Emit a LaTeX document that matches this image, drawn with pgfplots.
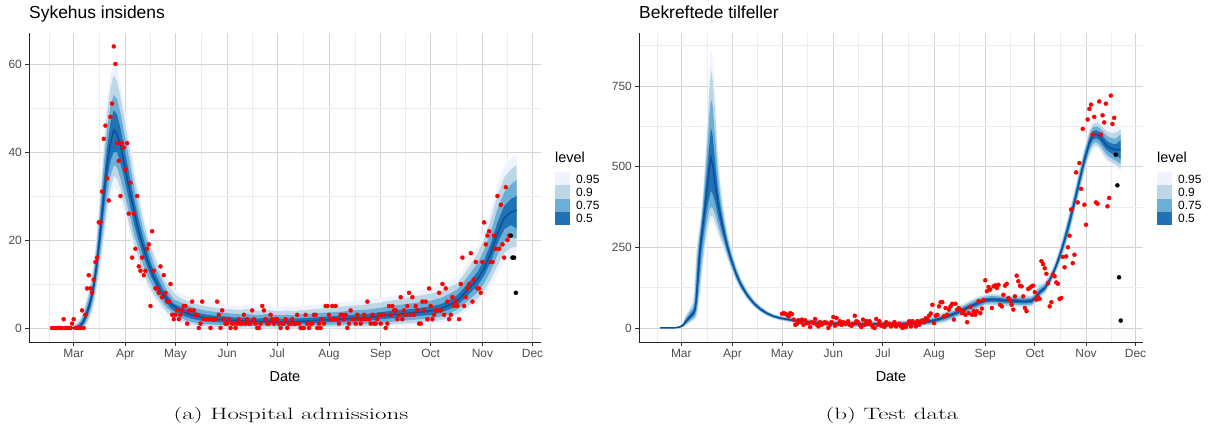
\documentclass[border=0pt]{standalone}
\usepackage{fontspec}
\usepackage{graphicx}
\usepackage{pgfplots}
\usepackage{pgfplotstable}
\pgfplotsset{compat=1.18}
\usepgfplotslibrary{fillbetween}
\newfontfamily\arial{Liberation Sans}

\definecolor{q95}{HTML}{EFF3FF}
\definecolor{q90}{HTML}{BDD7E7}
\definecolor{q75}{HTML}{6BAED6}
\definecolor{q50}{HTML}{2171B5}
\definecolor{medline}{HTML}{08519C}
\definecolor{gmajor}{HTML}{D4D4D4}
\definecolor{gminor}{HTML}{EDEDED}
\definecolor{txtgrey}{HTML}{4D4D4D}

\newcommand\fs[1]{\fontsize{#1}{#1}\selectfont}

% quantile bands of the hospital admissions forecast (day of year 2020)
\pgfplotstableread{
d l95 l90 l75 l50 med u50 u75 u90 u95
47 0 0 0 0 0 0 0 0 0.3
55 0 0 0 0 0 0 0.1 0.2 0.4
60 0 0 0 0 0 0.1 0.3 0.5 0.8
62 0 0 0 0 0.2 0.4 0.8 1.1 1.5
64 0 0 0 0.2 0.5 1 1.5 2 2.6
66 0 0.2 0.5 1 1.5 2.3 3 3.8 4.5
68 0.8 1.2 1.8 2.6 3.5 4.5 5.5 6.5 7.5
70 2.2 2.9 3.8 4.8 5.9 7 8.3 9.6 10.8
72 4.5 5.5 6.8 8.2 9.5 11 12.5 14 15.5
74 8.5 10 11.5 13.2 15 17 19 21 23
76 13.5 15 17 19.5 22 25 28 30 32
78 19 21 23.5 26.5 30 33.5 37 40 43
80 25 27 30 33.5 37 41 45 49 52
82 29.5 31.5 34.5 38 42 46.5 50.5 54.5 57.5
84 32 34.5 37 40 45 49.5 53 57.5 60
86 31.5 34 36.5 40 44 48.5 52 56 59
88 29.5 31.5 34 37.5 41.5 45.5 49 52.5 55.5
90 26.5 28.5 31 34.5 38 41.5 45 48.5 51
92 23.5 25.5 28 31 34 37.5 41 44 46.5
94 20.5 22.5 25 27.5 30.5 33.5 36.5 39.5 42
96 18 19.5 21.5 24 27 29.5 32.5 35 37.5
98 15.5 17 19 21 23.5 26 28.5 31 33
100 13.5 14.5 16.5 18.5 20.5 23 25 27.5 29
102 11.5 12.5 14 16 18 20 22 24 25.5
104 9.5 10.5 12 14 15.5 17.5 19.5 21 22.5
106 8 9 10.5 12 13.5 15 17 18.5 20
108 7 7.5 9 10.5 11.5 13 14.5 16.5 17.5
110 5.5 6.5 7.5 9 10 11.5 13 14.5 15.5
112 4.5 5.5 6.5 7.5 8.5 10 11.5 12.5 14
114 4 4.5 5.5 6.5 7.5 8.5 10 11 12.5
116 3 3.5 4.5 5.5 6.5 7.5 8.5 10 11
118 2.5 3 4 4.5 5.5 6.5 7.5 9 10
120 2 2.5 3 4 5 5.5 6.5 8 9
123 1.5 2 2.5 3.3 4.2 5 6 7 8
126 1 1.5 2 2.8 3.6 4.5 5.5 6.5 7.5
129 0.5 1 1.5 2.3 3.2 4 5 6 7
132 0.3 0.8 1.3 2 2.8 3.6 4.6 5.6 6.6
136 0 0.5 1 1.7 2.5 3.3 4.2 5.2 6.2
140 0 0.4 0.9 1.5 2.2 3 3.9 4.9 5.9
144 0 0.3 0.8 1.4 2 2.8 3.7 4.7 5.6
148 0 0.2 0.7 1.3 1.9 2.7 3.5 4.5 5.5
152 0 0.2 0.6 1.2 1.8 2.6 3.4 4.3 5.3
156 0 0.1 0.6 1.1 1.7 2.4 3.2 4.2 5.1
160 0 0.1 0.5 1 1.6 2.3 3.1 4.1 5
164 0 0.2 0.6 1.1 1.6 2.4 3.2 4.3 5.3
168 0 0.1 0.5 1 1.5 2.2 3 4 4.9
172 0 0.1 0.5 1 1.5 2.2 3 3.9 4.8
176 0 0.2 0.6 1.1 1.6 2.3 3.2 4.1 5.1
180 0 0.1 0.5 1 1.5 2.2 3 3.9 4.8
184 0 0.1 0.4 0.9 1.4 2.1 2.9 3.8 4.7
188 0 0.1 0.5 1 1.5 2.2 3 4 5
192 0 0.1 0.4 0.9 1.4 2.1 2.9 3.8 4.8
196 0 0.2 0.5 1 1.5 2.2 3.1 4 5
200 0 0.2 0.5 1 1.6 2.3 3.1 4.1 5.1
204 0 0.2 0.6 1.1 1.7 2.4 3.3 4.3 5.3
208 0 0.2 0.6 1.2 1.8 2.5 3.4 4.4 5.4
212 0 0.3 0.7 1.3 1.9 2.6 3.5 4.6 5.6
216 0 0.3 0.8 1.4 2 2.7 3.6 4.7 5.7
220 0 0.3 0.8 1.4 2 2.8 3.7 4.8 5.9
224 0.1 0.4 0.9 1.5 2.1 2.9 3.9 5 6
228 0.1 0.4 0.9 1.5 2.2 3 4 5.1 6.2
232 0.1 0.4 0.9 1.6 2.3 3.1 4.1 5.2 6.3
236 0.2 0.5 1 1.7 2.4 3.2 4.2 5.4 6.5
240 0.2 0.5 1.1 1.8 2.5 3.4 4.4 5.6 6.7
244 0.3 0.7 1.2 2 2.8 3.6 4.6 5.8 6.8
250 0.4 0.8 1.4 2.2 3 3.9 5 6.2 7.2
256 0.5 1 1.6 2.4 3.2 4.1 5.3 6.6 7.6
262 0.6 1.1 1.8 2.6 3.4 4.3 5.6 7 8.1
268 0.8 1.3 2 2.8 3.6 4.6 5.9 7.4 8.6
274 0.9 1.4 2.2 3 3.9 4.9 6.2 7.8 9
280 1.2 1.8 2.6 3.5 4.4 5.4 6.8 8.4 9.7
285 1.6 2.3 3.2 4.2 5.2 6.3 7.7 9.3 10.6
290 2.5 3.2 4.2 5.2 6.3 7.5 8.8 10.2 11.5
294 3.5 4.3 5.4 6.6 7.8 9.1 10.6 12.2 13.6
298 4.5 5.4 6.7 8.1 9.4 10.9 12.6 14.5 16
302 5.6 6.6 8.1 9.6 11 12.7 14.7 16.9 18.6
306 7.2 8.4 10.1 11.9 13.5 15.4 17.7 20.2 22.2
310 9.6 11 13 15.1 17 19.2 21.8 24.6 26.8
314 12.5 14.2 16.6 19.2 21.5 24 27 30.2 32.6
318 15 17 19.6 22.4 25 27.7 30.8 34.2 36.8
322 16.3 18.2 20.5 23.4 26.3 29.3 32.6 36 38.5
325.5 17 18.5 20.4 22.6 26.8 30 33.7 37 39.4
}\bandL

% quantile bands of the confirmed cases forecast
\pgfplotstableread{
d l95 l90 l75 l50 med u50 u75 u90 u95
47 0 0 0 0 0 0 0 0 0
56 0 0 0 0 0.5 1 1.5 2 2.5
59 0 0.5 1 2 3 4 5 6 8
61 2 3 4 6 8 10 13 16 20
63 8 10 13 17 22 27 33 39 45
65 14 17 21 27 33 40 48 56 64
67 20 24 29 36 44 53 64 76 90
68 24 28 34 42 52 64 82 110 150
69 30 36 46 60 80 120 170 215 250
70 45 58 80 110 150 200 245 270 290
71 80 100 130 175 225 258 285 302 318
72 130 152 185 230 275 302 328 345 362
73 180 200 232 272 318 348 378 400 418
74 222 242 272 310 360 400 440 472 495
75 262 282 312 350 405 455 505 548 580
76 292 312 342 380 450 510 575 635 680
77 318 338 368 405 495 570 655 740 800
78 330 348 375 425 527 620 710 800 865
79 328 346 372 415 505 595 685 770 835
80 318 335 360 398 468 540 620 700 770
81 305 320 345 378 428 488 558 628 688
82 290 304 325 352 392 435 480 530 570
84 265 275 290 312 340 365 390 420 445
86 240 248 260 275 292 310 328 346 362
88 210 217 227 238 250 263 276 289 300
90 182 188 196 205 215 225 235 245 254
93 145 150 156 163 170 178 186 194 201
96 115 119 124 129 135 141 147 153 158
100 86 89 93 97 101 106 110 115 119
104 64 66 69 72 76 79 83 86 89
108 48 50 52 55 58 61 64 67 69
112 36 38 40 42.5 45 47.5 50 52 54
116 28 30 32 34 36 38 40 42 44
120 22 24 26 28 30.5 33 35 37 39
125 17 19 21.5 23.5 26 28.5 31 33 35
130 13 15 17.5 20 22.5 25 27.5 30 32
140 7 9 12 14.5 17.5 20.5 23 26 28
150 3 5 8 10.5 14.5 18 21 24 26.5
160 1 3 6 9 12.5 16 19 22 24.5
170 0.5 2.5 5.5 8.5 12 15.5 18.5 21.5 24
180 0.5 2.5 5.5 8.5 12 15.5 18.5 21.5 24
190 1 3 6 9 12.5 16 19 22 24.5
200 2 4 7 10.5 14 17.5 21 24 26.5
205 4 6 9 12.5 16 19.5 23 26 29
210 7 9.5 12.5 16 20 24 27.5 31 34
215 11 14 17.5 21.5 26 30.5 34.5 38.5 42
220 16 19.5 23.5 28.5 34 39.5 44.5 49 53
225 27 30 34 38.5 43.5 48.5 53 57 60
230 36 39.5 44 49.5 55 60.5 66 70.5 74
235 46 50 55 61 67 73 79 84 88
240 56 60 65 71.5 78 84.5 91 96 100
244 66 70 75 80 86 92 97 102 106
248 68 72 77 82 88 94 99 104 108
252 67 71 76 81 87 93 98 103 107
256 65 69 74 79 85 91 96 101 105
260 64 68 73 78 84 90 95 100 104
264 63 67 72 77 83 89 94 99 103
268 62 66 71 76 82 88 93 98 102
272 64 68 73 78 84 90 95 100 104
274 72 76 81 86 92 98 103 108 112
276 84 88 93 99 105 112 120 130 140
278 96 100 105 110 115 121 128 135 142
280 104 108 113 118 123 129 135 141 147
283 128 132 137 142 148 154 159 164 168
286 158 163 169 175 181 187 193 199 204
289 194 200 207 214 222 230 237 244 250
292 238 245 253 262 272 282 291 299 306
295 288 296 305 316 328 340 351 360 368
298 350 358 368 379 390 402 413 423 431
301 414 422 432 444 456 468 480 490 498
304 478 486 496 508 520 532 544 554 562
307 530 538 548 560 574 586 598 608 616
309 552 560 570 583 596 609 621 631 640
311 558 566 576 588 600 613 625 636 646
313 551 559 569 582 595 608 621 633 644
315 536 544 555 568 582 596 610 623 635
317 520 528 540 554 568 583 598 612 625
319 510 519 531 545 560 575 591 606 620
321 503 512 524 539 555 571 588 604 619
323 496 505 518 534 552 569 587 604 620
326 482 494 508 524 553 582 600 615 633
}\bandR

\pgfplotsset{
  fan/.style={
    scale only axis, height=309bp,
    axis lines*=left,
    axis line style={line width=0.9bp, black!85},
    tick align=outside, major tick length=3.6bp, minor tick length=0pt,
    tick style={line width=0.8bp, black!80},
    xtick={60,91,121,152,182,213,244,274,305,335},
    xticklabels={Mar,Apr,May,Jun,Jul,Aug,Sep,Oct,Nov,Dec},
    minor xtick={45.5,75.5,106,136.5,167,197.5,228.5,259,289.5,320},
    grid=both,
    major grid style={gmajor, line width=0.8bp},
    minor grid style={gminor, line width=0.6bp},
    ticklabel style={font=\arial\fs{12}, text=txtgrey},
    /pgf/number format/assume math mode=true,
    xlabel={Date},
    xlabel style={font=\arial\fs{14.5}, at={(axis description cs:0.5,0)}, anchor=base, yshift=-39.7bp},
    title style={font=\arial\fs{17.5}, at={(axis description cs:0,1)}, anchor=base west, yshift=9bp, inner sep=0pt},
    clip=true,
  },
  obs/.style={only marks, mark=*, mark size=2bp, color=#1},
}

% draws the four nested quantile bands and the median of a table
\newcommand\fanbands[2]{%
  \addplot[draw=none, forget plot, name path=#2u95] table[x=d, y=u95] {#1};
  \addplot[draw=none, forget plot, name path=#2l95] table[x=d, y=l95] {#1};
  \addplot[q95, draw=none, forget plot] fill between[of=#2u95 and #2l95];
  \addplot[draw=none, forget plot, name path=#2u90] table[x=d, y=u90] {#1};
  \addplot[draw=none, forget plot, name path=#2l90] table[x=d, y=l90] {#1};
  \addplot[q90, draw=none, forget plot] fill between[of=#2u90 and #2l90];
  \addplot[draw=none, forget plot, name path=#2u75] table[x=d, y=u75] {#1};
  \addplot[draw=none, forget plot, name path=#2l75] table[x=d, y=l75] {#1};
  \addplot[q75, draw=none, forget plot] fill between[of=#2u75 and #2l75];
  \addplot[draw=none, forget plot, name path=#2u50] table[x=d, y=u50] {#1};
  \addplot[draw=none, forget plot, name path=#2l50] table[x=d, y=l50] {#1};
  \addplot[q50, draw=none, forget plot] fill between[of=#2u50 and #2l50];
  \addplot[medline, line width=1.5bp, forget plot] table[x=d, y=med] {#1};
}

% ggplot-like legend of the band levels
\newcommand\levellegend[1]{%
  \node[anchor=base west, font=\arial\fs{14.5}, inner sep=0pt] at (#1bp,265bp) {level};
  \fill[q95] (#1bp,255.7bp) rectangle ++(15bp,-13.2bp);
  \fill[q90] (#1bp,242.5bp) rectangle ++(15bp,-13.2bp);
  \fill[q75] (#1bp,229.3bp) rectangle ++(15bp,-13.2bp);
  \fill[q50] (#1bp,216.1bp) rectangle ++(15bp,-13.2bp);
  \begin{scope}[font=\arial\fs{12}, inner sep=0pt, xshift=21bp]
    \node[anchor=west] at (#1bp,249.1bp) {0.95};
    \node[anchor=west] at (#1bp,235.9bp) {0.9};
    \node[anchor=west] at (#1bp,222.7bp) {0.75};
    \node[anchor=west] at (#1bp,209.5bp) {0.5};
  \end{scope}
}

\begin{document}
\begin{tikzpicture}

% ---------------- hospital admissions ----------------
\begin{axis}[fan, at={(29bp,86bp)}, anchor=south west, width=512bp,
  xmin=33.2, xmax=340.1, ymin=-3.18, ymax=67.05,
  ytick={0,20,40,60}, minor ytick={10,30,50},
  title={Sykehus insidens}]
\fanbands{\bandL}{L}
\addplot[obs=red] coordinates {
(47,0)(48,0)(49,0)(50,0)(51,0)(52,0)(53,0)(54,2)(55,0)(56,0)(57,0)(58,0)(59,1)(60,2)
(61,0)(62,0)(63,0)(64,0)(65,4)(66,0)(67,3)(68,9)(69,12)(70,9)(71,8)(72,11)(73,15)(74,16)
(75,24)(76,24)(77,31)(78,43)(79,46)(80,34)(81,29)(82,48)(83,51)(84,64)(85,60)(86,42)(87,38)
(88,30)(89,42)(90,41)(91,36)(92,42)(93,26)(94,33)(95,16)(96,26)(97,18)(98,30)(99,14)(100,13)
(101,16)(102,12)(103,13)(104,18)(105,19)(106,5)(107,22)(108,13)(109,9)(110,9)(111,8)(112,14)
(113,7)(114,12)(115,8)(116,6)(117,6)(118,10)(119,3)(120,2)(121,3)(122,4)(123,2)(124,3)(125,4)
(126,5)(127,5)(128,1)(129,4)(130,4)(131,6)(132,4)(133,3)(134,3)(135,0)(136,1)(137,6)(138,2)
(139,2)(140,2)(141,2)(142,0)(143,2)(144,2)(145,2)(146,6)(147,3)(148,0)(149,4)(150,2)(151,1)
(152,1)(153,2)(154,0)(155,1)(156,1)(157,0)(158,1)(159,2)(160,1)(161,1)(162,3)(163,1)(164,2)
(165,1)(166,1)(167,4)(168,2)(169,1)(170,0)(171,0)(172,1)(173,5)(174,4)(175,2)(176,1)(177,1)
(178,3)(179,2)(180,1)(181,2)(182,2)(183,1)(184,0)(185,1)(186,1)(187,2)(188,0)(189,1)(190,1)
(191,2)(192,1)(193,1)(194,3)(195,1)(196,0)(197,0)(198,0)(199,3)(200,1)(201,0)(202,1)(203,1)
(204,3)(205,3)(206,0)(207,1)(208,0)(209,2)(210,1)(211,5)(212,5)(213,3)(214,2)(215,5)(216,2)
(217,5)(218,2)(219,1)(220,3)(221,3)(222,2)(223,3)(224,0)(225,1)(226,4)(227,2)(228,2)(229,1)
(230,3)(231,2)(232,1)(233,2)(234,3)(235,2)(236,6)(237,2)(238,1)(239,3)(240,1)(241,1)(242,2)
(243,3)(244,1)(245,3)(246,3)(247,0)(248,1)(249,5)(250,3)(251,5)(252,4)(253,4)(254,2)(255,3)
(256,7)(257,2)(258,4)(259,3)(260,5)(261,8)(262,3)(263,7)(264,3)(265,5)(266,4)(267,1)(268,1)
(269,6)(270,4)(271,6)(272,2)(273,9)(274,5)(275,2)(276,3)(277,4)(278,4)(279,8)(280,4)(281,10)
(282,3)(283,9)(284,6)(285,2)(286,3)(287,7)(288,5)(289,6)(290,5)(291,2)(292,10)(293,16)(294,5)
(295,7)(296,9)(297,10)(298,17)(299,6)(300,11)(301,15)(302,9)(303,9)(304,8)(305,15)(306,24)
(307,19)(308,21)(309,22)(310,15)(311,15)(312,21)(313,18)(314,30)(315,18)(316,28)(317,19)
(318,16)(319,32)(320,20)(321,21)
};
\addplot[obs=black] coordinates {(322,21)(323,16)(324,16)(325,8)};
\end{axis}

% ---------------- confirmed cases ----------------
\begin{axis}[fan, at={(639bp,86bp)}, anchor=south west, width=504bp,
  xmin=34.4, xmax=339.5, ymin=-43.4, ymax=914,
  ytick={0,250,500,750}, minor ytick={125,375,625,875},
  title={Bekreftede tilfeller}]
\fanbands{\bandR}{R}
\addplot[obs=red] coordinates {
(121,44)(122,46)(123,44)(124,41)(125,36)(126,46)(127,43)(128,26)(129,10)(130,13)(131,24)
(132,18)(133,26)(134,10)(135,24)(136,15)(137,15)(138,3)(139,18)(140,15)(141,28)(142,10)
(143,5)(144,18)(145,10)(146,15)(147,18)(148,15)(149,0)(150,10)(151,18)(152,34)(153,7)
(154,31)(155,13)(156,21)(157,10)(158,18)(159,13)(160,15)(161,21)(162,10)(163,7)(164,13)
(165,38)(166,21)(167,18)(168,10)(169,3)(170,26)(171,10)(172,21)(173,13)(174,21)(175,10)
(176,3)(177,0)(178,28)(179,10)(180,21)(181,7)(182,10)(183,3)(184,18)(185,10)(186,13)
(187,5)(188,10)(189,18)(190,5)(191,10)(192,13)(193,5)(194,0)(195,7)(196,3)(197,13)(198,21)
(199,5)(200,21)(201,15)(202,5)(203,21)(204,10)(205,21)(206,24)(207,18)(208,30)(209,26)
(210,38)(211,45)(212,72)(213,15)(214,38)(215,41)(216,67)(217,80)(218,80)(219,36)(220,62)
(221,41)(222,57)(223,67)(224,75)(225,26)(226,75)(227,57)(228,62)(229,55)(230,46)(231,52)
(232,41)(233,18)(234,46)(235,65)(236,41)(237,52)(238,41)(239,52)(240,83)(241,46)(242,60)
(243,86)(244,148)(245,114)(246,127)(247,119)(248,62)(249,129)(250,132)(251,124)(252,134)
(253,72)(254,67)(255,103)(256,131)(257,137)(258,93)(259,85)(260,72)(261,57)(262,98)
(263,162)(264,145)(265,131)(266,129)(267,98)(268,62)(269,52)(270,121)(271,124)(272,129)
(273,131)(274,111)(275,88)(276,95)(277,90)(278,207)(279,198)(280,185)(281,168)(282,139)
(283,67)(284,80)(285,165)(286,160)(287,141)(288,137)(289,90)(290,93)(291,220)(292,188)
(293,222)(294,250)(295,286)(296,367)(297,201)(298,227)(299,482)(300,389)(301,511)(302,431)
(303,617)(304,382)(305,320)(306,646)(307,679)(308,692)(309,599)(310,654)(311,389)(312,385)
(313,702)(314,599)(315,659)(316,637)(317,695)(318,377)(319,403)(320,720)(321,632)(322,651)
};
\addplot[obs=black] coordinates {(323,537)(324,442)(325,157)(326,23)};
\end{axis}

\levellegend{555}
\levellegend{1157}

\node[anchor=base, font=\fs{16.5}] at (291bp,8.3bp) {\scalebox{1.52}[1]{(a) Hospital admissions}};
\node[anchor=base, font=\fs{16.5}] at (892bp,8.3bp) {\scalebox{1.52}[1]{(b) Test data}};
\path (0,0) rectangle (1208bp,428bp);
\end{tikzpicture}
\end{document}
